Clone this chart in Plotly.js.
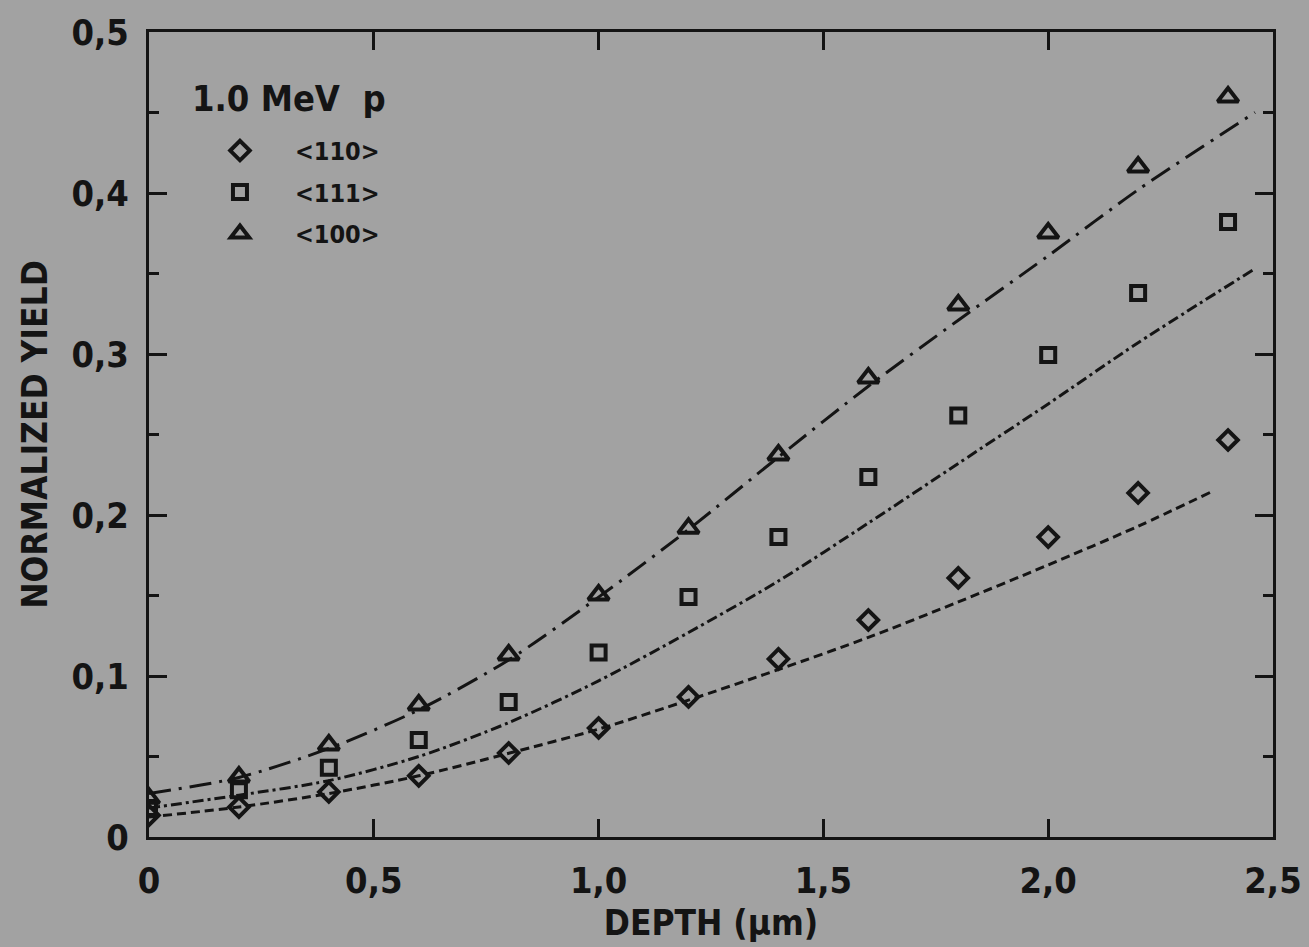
<!DOCTYPE html>
<html>
<head>
<meta charset="utf-8">
<script src="https://cdn.plot.ly/plotly-3.0.1.min.js"></script>
<style>
  html, body { margin: 0; padding: 0; background: #a2a2a2; }
  #chart { width: 1309px; height: 947px; }
</style>
</head>
<body>
<div id="chart"></div>
<script>
// Measured depths (µm)
const depth = [0, 0.2, 0.4, 0.6, 0.8, 1.0, 1.2, 1.4, 1.6, 1.8, 2.0, 2.2, 2.4];

// Normalized yield per channel direction
const yield110 = [0.0135, 0.0186, 0.028, 0.038, 0.0522, 0.0677, 0.087, 0.1106, 0.1348, 0.1609, 0.1863, 0.2137, 0.2466];
const yield111 = [0.018, 0.029, 0.043, 0.0602, 0.0839, 0.1146, 0.149, 0.1863, 0.2236, 0.2618, 0.2994, 0.3379, 0.382];
const yield100 = [0.024, 0.0373, 0.0571, 0.082, 0.113, 0.1503, 0.1917, 0.2373, 0.2851, 0.3304, 0.3752, 0.4161, 0.4596];

// Calculated curves
const fitX110 = [0, 0.2, 0.4, 0.6, 0.8, 1.0, 1.2, 1.4, 1.6, 1.8, 2.0, 2.2, 2.36];
const fit110  = [0.0124, 0.0186, 0.027, 0.038, 0.052, 0.067, 0.085, 0.104, 0.124, 0.146, 0.169, 0.193, 0.214];
const fitX111 = [0, 0.2, 0.4, 0.6, 0.8, 1.0, 1.2, 1.4, 1.6, 1.8, 2.0, 2.2, 2.46];
const fit111  = [0.018, 0.026, 0.035, 0.050, 0.071, 0.097, 0.127, 0.159, 0.195, 0.232, 0.269, 0.307, 0.353];
const fitX100 = [0, 0.2, 0.4, 0.6, 0.8, 1.0, 1.2, 1.4, 1.6, 1.8, 2.0, 2.2, 2.46];
const fit100  = [0.027, 0.037, 0.055, 0.079, 0.110, 0.149, 0.191, 0.236, 0.280, 0.321, 0.361, 0.402, 0.450];

const seriesNames = ['<110>', '<111>', '<100>'];
const beamLabel = '1.0 MeV\u00a0 p';

const ink = '#141414';
const fontFam = 'DejaVu Sans Condensed, DejaVu Sans, sans-serif';
const textWeight = 'bold';

function curve(x, y, dash) {
  return {
    x: x, y: y, mode: 'lines', type: 'scatter', showlegend: false, hoverinfo: 'skip',
    line: { color: ink, width: 3, dash: dash, shape: 'spline', smoothing: 0.8 }
  };
}
function points(y, name, symbol, size) {
  return {
    x: depth, y: y, name: name, legendgroup: name, mode: 'markers', type: 'scatter',
    marker: { symbol: symbol, size: size, color: ink, line: { color: ink, width: 4 } }
  };
}

const data = [
  curve(fitX110, fit110, '9px,5px'),
  curve(fitX111, fit111, '11px,4px,3px,4px'),
  curve(fitX100, fit100, '22px,8px,3px,8px'),
  points(yield110, seriesNames[0], 'diamond-open', 15),
  points(yield111, seriesNames[1], 'square-open', 14),
  points(yield100, seriesNames[2], 'triangle-up-open', 18)
];

const tickFont = { family: fontFam, size: 36, color: ink, weight: textWeight };

const axisCommon = {
  showgrid: false, zeroline: false, showline: true, linecolor: ink, linewidth: 3,
  mirror: 'ticks', ticks: 'inside', tickcolor: ink, tickwidth: 3, ticklen: 18,
  ticklabelstandoff: 10,
  tickfont: tickFont
};

const layout = {
  width: 1309, height: 947,
  margin: { l: 149, r: 36, t: 32, b: 110 },
  paper_bgcolor: '#a2a2a2', plot_bgcolor: '#a2a2a2',
  separators: ', ',
  font: { family: fontFam, color: ink },
  xaxis: Object.assign({}, axisCommon, {
    range: [0, 2.5],
    tickvals: [0, 0.5, 1.0, 1.5, 2.0, 2.5],
    ticktext: ['0', '0,5', '1,0', '1,5', '2,0', '2,5'],
    title: { text: 'DEPTH (\u03bcm)', font: { family: fontFam, size: 35, color: ink, weight: textWeight }, standoff: 11 }
  }),
  yaxis: Object.assign({}, axisCommon, {
    range: [0, 0.5],
    tickvals: [0, 0.1, 0.2, 0.3, 0.4, 0.5],
    ticktext: ['0', '0,1', '0,2', '0,3', '0,4', '0,5'],
    minor: { dtick: 0.05, tick0: 0, ticks: 'inside', ticklen: 10, tickwidth: 3, tickcolor: ink, showgrid: false },
    title: { text: 'NORMALIZED YIELD', font: { family: fontFam, size: 35, color: ink, weight: textWeight }, standoff: 14 }
  }),
  legend: {
    x: 0.032, y: 0.881, xanchor: 'left', yanchor: 'top',
    bgcolor: 'rgba(0,0,0,0)', borderwidth: 0,
    itemwidth: 100, tracegroupgap: 6, traceorder: 'grouped',
    font: { family: fontFam, size: 25, color: ink, weight: textWeight }
  },
  annotations: [{
    text: beamLabel, xref: 'paper', yref: 'paper', x: 0.0365, y: 0.918,
    xanchor: 'left', yanchor: 'middle', showarrow: false,
    font: { family: fontFam, size: 36, color: ink, weight: textWeight }
  }],
  showlegend: true
};

Plotly.newPlot('chart', data, layout, { staticPlot: true, displayModeBar: false });
</script>
</body>
</html>
